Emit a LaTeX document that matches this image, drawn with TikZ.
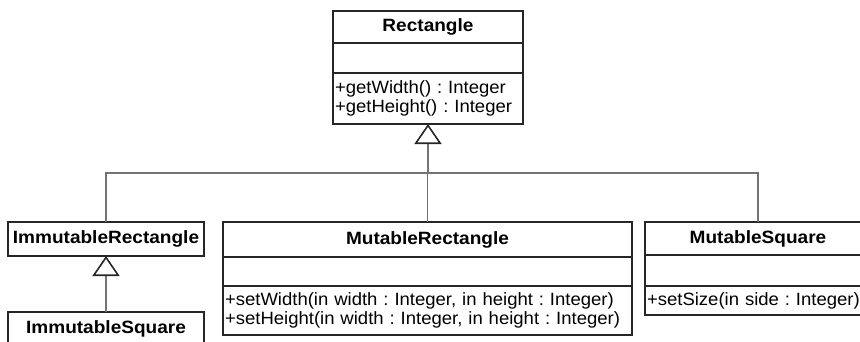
\documentclass[tikz,border=0pt]{standalone}
\usepackage{fontspec}
\setmainfont{Liberation Sans}[FakeStretch=1.04,BoldFeatures={FakeStretch=1.07}]
\frenchspacing
\usetikzlibrary{arrows.meta,positioning}

\begin{document}
\begin{tikzpicture}[x=1pt,y=-1pt,node distance=0pt,>={Triangle[length=20pt,width=27pt,color=black!85,fill=white]}]
        \tikzstyle{classbox}=[draw=black!85,line width=1.6pt,inner sep=0pt,outer sep=0pt,anchor=north]
        \tikzstyle{title}=[classbox,font=\bfseries\fontsize{17.8}{20}\selectfont]
        \tikzstyle{members}=[classbox,align=left,inner xsep=2pt,font=\fontsize{17.8}{19}\selectfont]
        \tikzstyle{inherit}=[draw=black!55,line width=1.6pt]

        \useasboundingbox (0,0) rectangle (860,341);
        \clip (0,0) rectangle (860,341);

        \node [title, minimum width=190pt, minimum height=32pt] (rect) at (428,11) {Rectangle}; %base class
        \node [classbox, minimum width=190pt, minimum height=30pt, below=of rect] (rectattr) {};
        \node [members, text width=186pt, minimum height=51pt, below=of rectattr] (rectops) {+getWidth() : Integer\\+getHeight() : Integer};

        \node [title, minimum width=196pt, minimum height=34pt] (irect) at (106,222) {ImmutableRectangle};
        \node [title, minimum width=196pt, minimum height=34pt] (isq) at (106,312) {ImmutableSquare};

        \node [title, minimum width=409pt, minimum height=35pt] (mrect) at (427.5,222) {MutableRectangle};
        \node [classbox, minimum width=409pt, minimum height=29pt, below=of mrect] (mrectattr) {};
        \node [members, text width=405pt, minimum height=49pt, below=of mrectattr] (mrectops) {+setWidth(in width : Integer, in height : Integer)\\+setHeight(in width : Integer, in height : Integer)};

        \node [title, minimum width=226pt, minimum height=33pt] (msq) at (758,222) {MutableSquare}; %runs off the right side
        \node [classbox, minimum width=226pt, minimum height=31pt, below=of msq] (msqattr) {};
        \node [members, text width=222pt, minimum height=29pt, below=of msqattr] (msqops) {+setSize(in side : Integer)};

        \coordinate (bus) at (428,173);
        \draw [inherit] (irect.north) |- (bus) -| (msq.north);
        \draw [inherit] (mrect.north |- bus) -- (mrect.north);
        \draw [inherit,->] (bus) -- (rectops.south);
        \draw [inherit,->] (isq.north) -- (irect.south);
\end{tikzpicture}
\end{document}
